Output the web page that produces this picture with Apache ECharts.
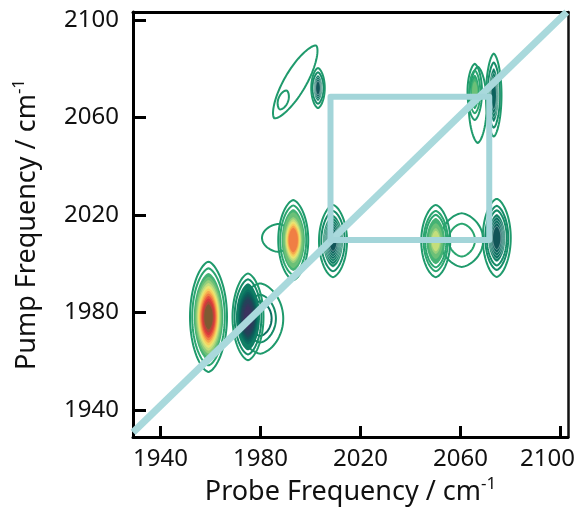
<!DOCTYPE html>
<html>
<head>
<meta charset="utf-8">
<script src="https://cdn.jsdelivr.net/npm/echarts@6/dist/echarts.min.js"></script>
<style>
html,body{margin:0;padding:0;background:#fff;}
#chart{width:583px;height:510px;}
</style>
</head>
<body>
<div id="chart"></div>
<script>
// Tick labels
const probeTicks = [1940, 1980, 2020, 2060, 2100];
const pumpTicks = [1940, 1980, 2020, 2060, 2100];

// Contour peaks (probe centre, pump centre, half widths in cm-1, contour counts)
const peakProbe      = [1979.9, 1987.0, 2060.5, 2066.9, 1993.9, 1989.1, 1959.2, 1975.0, 1993.1, 2009.0, 2050.1, 2074.5, 2065.7, 2073.3, 2003.0];
const peakPump       = [1977.5, 2010.6, 2009.7, 2065.2, 2074.6, 2067.2, 1978.2, 1978.2, 2009.7, 2009.3, 2009.3, 2010.6, 2070.5, 2069.2, 2072.1];
const peakHalfWidth  = [9.2, 6.4, 8.6, 3.6, 4.4, 2.0, 7.4, 6.2, 6.0, 5.6, 5.8, 5.6, 2.9, 3.1, 2.7];
const peakHalfHeight = [14.4, 5.7, 11.0, 15.6, 17.2, 4.1, 22.6, 17.8, 16.4, 14.8, 14.8, 16.0, 11.5, 17.0, 8.2];
const peakLevels     = [3, 1, 2, 1, 1, 1, 14, 12, 12, 9, 9, 8, 5, 6, 6];
const peakLineLevels = [3, 1, 2, 1, 1, 1, 2, 2, 2, 2, 3, 3, 2, 2, 2];
const peakDepth      = [0.3, 0, 0.1, 0, 0, 0, 1, 1, 0.72, 0.5, 0.35, 0.5, 0.22, 0.45, 0.5];
const peakTilt       = [0, 0, 0, 0, 30, 20, 0, 0, 0, 0, 0, 0, 0, 0, 0];
const peakSign       = [-1, 1, 1, 1, 1, 1, 1, -1, 1, -1, 1, -1, 1, -1, -1];

// Diagonal and cross-peak square
const diagProbe = [1929.0, 2102.5];
const diagPump  = [1930.8, 2103.3];
const boxProbe  = [2008.0, 2008.0, 2071.5, 2071.5, 2008.0];
const boxPump   = [2009.7, 2068.5, 2068.5, 2009.7, 2009.7];

const POS = ['#1f9a6c','#2aa56f','#45b274','#6cc078','#98cf7c','#c4de7c','#e9e472','#f6cf5e','#f5a94e','#f07f44','#e5533e','#d63a3c','#b04a38','#7e5a32'];
const NEG = ['#1f9a6c','#168c68','#0f7e64','#0b6f60','#0b625c','#125558','#1c4a58','#27405a','#32385c','#3a325e'];

const peakData = peakProbe.map((p, i) => [p, peakPump[i], peakHalfWidth[i], peakHalfHeight[i],
  peakLevels[i], peakLineLevels[i], peakDepth[i], peakTilt[i], peakSign[i]]);

function renderItem(params, api) {
  const c = api.coord([api.value(0), api.value(1)]);
  const sz = api.size([api.value(2), api.value(3)]);
  const rx = sz[0], ry = sz[1];
  const n = api.value(4), nl = api.value(5), depth = api.value(6);
  const tilt = api.value(7) * Math.PI / 180, sign = api.value(8);
  const pal = sign > 0 ? POS : NEG;
  const L0 = 0.08;
  const children = [];
  for (let k = 0; k < n; k++) {
    const L = L0 + (1 - L0) * k / (n + 1);
    const s = Math.sqrt(Math.log(L) / Math.log(L0));
    const idx = n > 1 ? Math.round(k / (n - 1) * depth * (pal.length - 1)) : 0;
    const pts = [];
    for (let j = 0; j < 80; j++) {
      const t = j / 80 * 2 * Math.PI;
      const co = Math.cos(t), si = Math.sin(t);
      const dx = rx * s * Math.sign(co) * Math.pow(Math.abs(co), 1.25);
      const dy = ry * s * si;
      pts.push([c[0] + dx * Math.cos(tilt) - dy * Math.sin(tilt),
                c[1] + dx * Math.sin(tilt) + dy * Math.cos(tilt)]);
    }
    const isLine = k < nl;
    let style;
    if (isLine) style = { fill: 'none', stroke: pal[idx], lineWidth: 2 };
    else if (sign < 0 && depth < 0.6) style = { fill: pal[idx], stroke: 'rgba(255,255,255,0.5)', lineWidth: 0.8 };
    else style = { fill: pal[idx] };
    children.push({ type: 'polygon', shape: { points: pts }, style: style });
  }
  return { type: 'group', children: children };
}

const FONT = 'Noto Sans';
const lastProbe = probeTicks[probeTicks.length - 1];
const probeLabel = v => (v === lastProbe ? '{last|' + v + '}' : String(v));
const plain = v => String(v);
const nameRich = {
  a: { fontSize: 27, fontFamily: FONT, color: '#111', lineHeight: 32 },
  s: { fontSize: 17, fontFamily: FONT, color: '#111', lineHeight: 32, verticalAlign: 'top', padding: [0,0,14,0] }
};
const chart = echarts.init(document.getElementById('chart'), null, { renderer: 'canvas' });
chart.setOption({
  backgroundColor: '#fff',
  animation: false,
  grid: { left: 133, right: 15, top: 12, bottom: 73, containLabel: false, outerBoundsMode: 'none' },
  xAxis: [{
    type: 'value', min: 1929, max: 2103, position: 'bottom',
    name: '{a|Probe Frequency / cm}{s|-1}', nameLocation: 'middle', nameGap: 39,
    nameTextStyle: { rich: nameRich },
    axisLine: { onZero: false, lineStyle: { color: '#000', width: 3 } },
    axisTick: { inside: true, length: 11, customValues: probeTicks, lineStyle: { color: '#000', width: 3 } },
    axisLabel: { customValues: probeTicks, formatter: probeLabel, fontSize: 24, fontFamily: FONT, color: '#111', margin: 10,
      rich: { last: { fontSize: 24, fontFamily: FONT, color: '#111', padding: [0, 26, 0, 0] } } },
    splitLine: { show: false }
  }, {
    type: 'value', min: 1929, max: 2103, position: 'top',
    axisLine: { onZero: false, lineStyle: { color: '#000', width: 3 } },
    axisTick: { show: false }, axisLabel: { show: false }, splitLine: { show: false }
  }],
  yAxis: [{
    type: 'value', min: 1928.9, max: 2103.3, position: 'left',
    name: '{a|Pump Frequency / cm}{s|-1}', nameLocation: 'middle', nameGap: 90,
    nameTextStyle: { rich: nameRich },
    axisLine: { onZero: false, lineStyle: { color: '#000', width: 3 } },
    axisTick: { inside: true, length: 13, customValues: pumpTicks, lineStyle: { color: '#000', width: 3 } },
    axisLabel: { customValues: pumpTicks, formatter: plain, fontSize: 24, fontFamily: FONT, color: '#111', margin: 14 },
    splitLine: { show: false }
  }, {
    type: 'value', min: 1928.9, max: 2103.3, position: 'right',
    axisLine: { onZero: false, lineStyle: { color: '#111', width: 2.5 } },
    axisTick: { show: false }, axisLabel: { show: false }, splitLine: { show: false }
  }],
  series: [{
    type: 'custom', xAxisIndex: 0, yAxisIndex: 0,
    renderItem: renderItem, data: peakData, encode: { x: 0, y: 1 }, clip: true, z: 2
  }, {
    type: 'line', xAxisIndex: 0, yAxisIndex: 0, symbol: 'none', z: 5,
    data: diagProbe.map((x, i) => [x, diagPump[i]]),
    lineStyle: { color: '#a9d9dc', width: 7, cap: 'butt' }
  }, {
    type: 'line', xAxisIndex: 0, yAxisIndex: 0, symbol: 'none', z: 6,
    data: boxProbe.map((x, i) => [x, boxPump[i]]),
    lineStyle: { color: '#a3d5d9', width: 6, cap: 'round', join: 'round' }
  }]
});
</script>
</body>
</html>
